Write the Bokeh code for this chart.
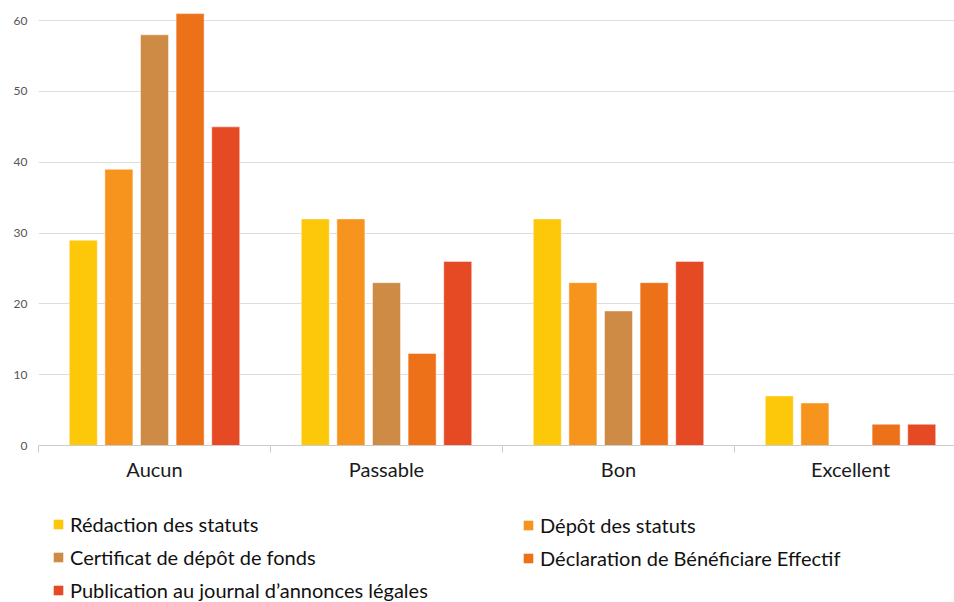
import numpy as np
from bokeh.plotting import figure
from bokeh.layouts import column
from bokeh.models import Range1d, FixedTicker, Legend, LegendItem, ColumnDataSource
from bokeh.embed import file_html
from bokeh.resources import INLINE

categories = ["Aucun", "Passable", "Bon", "Excellent"]
series_names = [
    "Rédaction des statuts",
    "Dépôt des statuts",
    "Certificat de dépôt de fonds",
    "Déclaration de Bénéficiare Effectif",
    "Publication au journal d’annonces légales",
]
redaction = [29, 32, 32, 7]
depot = [39, 32, 23, 6]
certificat = [58, 23, 19, 0]
declaration = [61, 13, 23, 3]
publication = [45, 26, 26, 3]
series_values = [redaction, depot, certificat, declaration, publication]
colors = ["#FEC80A", "#F7941E", "#CE8B45", "#EC7119", "#E54A25"]
y_ticks = [0, 10, 20, 30, 40, 50, 60]

FONT = "Lato"
W = 954
CH, LH = 500, 102
left, top = 38, 6
bottom = CH - 445
frame_w = W - left
group_px = 232.0
x_end = frame_w / group_px

p = figure(width=W, height=CH, output_backend="svg", toolbar_location=None,
           x_range=Range1d(0, x_end), y_range=Range1d(0, 62),
           min_border_left=left, min_border_right=0, min_border_top=top,
           min_border_bottom=bottom)
p.outline_line_color = None
p.background_fill_color = "white"
p.border_fill_color = "white"

step = 0.1535
bw = 0.1207
renderers = []
sources = []
centers = np.arange(len(categories)) + 0.5
for i, (name, vals, c) in enumerate(zip(series_names, series_values, colors)):
    src = ColumnDataSource(dict(x=centers + (i - 2) * step, top=vals))
    sources.append(src)
    r = p.vbar(x="x", top="top", width=bw, source=src, fill_color=c,
               line_color="white", line_alpha=0.45, line_width=1)
    renderers.append(r)

# y axis
p.yaxis.ticker = FixedTicker(ticks=y_ticks)
p.yaxis.axis_line_color = None
p.yaxis.major_tick_line_color = None
p.yaxis.minor_tick_line_color = None
p.yaxis.major_tick_out = 0
p.yaxis.major_tick_in = 0
p.yaxis.major_label_text_font = FONT
p.yaxis.major_label_text_font_size = "12px"
p.yaxis.major_label_text_color = "#555555"
p.yaxis.major_label_standoff = 11
p.ygrid.ticker = FixedTicker(ticks=y_ticks)
p.ygrid.grid_line_color = "#dddddd"
p.xgrid.grid_line_color = None

# x axis
p.xaxis.ticker = FixedTicker(ticks=list(centers), minor_ticks=[0, 1, 2, 3])
p.xaxis.major_label_overrides = {float(c): n for c, n in zip(centers, categories)}
p.xaxis.axis_line_color = "#cccccc"
p.xaxis.major_tick_line_color = None
p.xaxis.major_tick_out = 0
p.xaxis.major_tick_in = 0
p.xaxis.minor_tick_line_color = "#cccccc"
p.xaxis.minor_tick_out = 7
p.xaxis.minor_tick_in = 0
p.xaxis.major_label_text_font = FONT
p.xaxis.major_label_text_font_size = "20px"
p.xaxis.major_label_text_color = "#1a1a1a"
p.xaxis.major_label_standoff = 4

# legend figure (below the chart)
q = figure(width=W, height=LH, output_backend="svg", toolbar_location=None,
           x_range=Range1d(0, 1), y_range=Range1d(0, 1),
           x_axis_location=None, y_axis_location=None,
           min_border_left=left, min_border_right=0, min_border_top=0,
           min_border_bottom=0)
q.outline_line_color = None
q.grid.visible = False
q.background_fill_color = "white"
q.border_fill_color = "white"
proxies = [q.vbar(x="x", top="top", width=bw, source=s, fill_color=c,
                  line_color=None, visible=False)
           for s, c in zip(sources, colors)]

def make_legend(idx, vx, vy):
    items = [LegendItem(label=series_names[i], renderers=[proxies[i]]) for i in idx]
    lg = Legend(items=items, location=(vx, vy), orientation="vertical",
                glyph_width=12, glyph_height=12, label_standoff=6,
                label_height=20, spacing=9, padding=0, margin=0,
                border_line_color=None, background_fill_alpha=0,
                label_text_font=FONT, label_text_font_size="20px",
                label_text_color="#111111")
    q.add_layout(lg, "center")

make_legend([0, 2, 4], 52 - left, 0)
make_legend([1, 3], 522 - left, 32)

open("out.html", "w").write(file_html(column(p, q, spacing=0), INLINE))
